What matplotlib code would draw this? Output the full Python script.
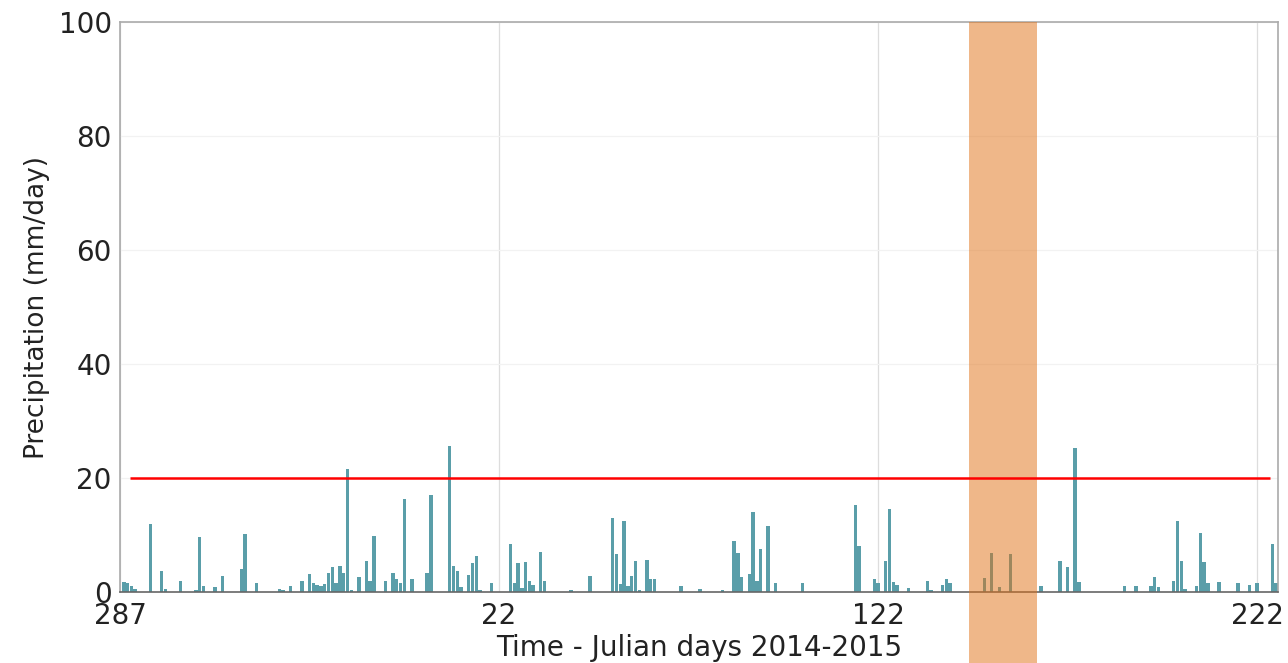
import numpy as np
import matplotlib
matplotlib.use('Agg')
import matplotlib.pyplot as plt

# daily precipitation, index = days since julian day 287 of 2014
rain_idx = [1, 2, 3, 4, 8, 11, 12, 16, 20, 21, 22, 25, 27, 32, 33, 36, 42, 43, 45, 48,
            50, 51, 52, 53, 54, 55, 56, 57, 58, 59, 60, 61, 63, 65, 66, 67, 70, 72, 73, 74,
            75, 77, 81, 82, 87, 88, 89, 90, 92, 93, 94, 95, 98, 103, 104, 105, 106, 107, 108, 109,
            111, 112, 119, 124, 130, 131, 132, 133, 134, 135, 136, 137, 139, 140, 141, 148, 153, 159, 162, 163,
            164, 166, 167, 168, 169, 171, 173, 180, 194, 195, 199, 200, 202, 203, 204, 205, 208, 213, 214, 217,
            218, 219, 228, 230, 232, 235, 243, 248, 250, 252, 253, 265, 268, 272, 273, 274, 278, 279, 280, 281,
            284, 285, 286, 287, 290, 295, 298, 300, 304, 305]
rain_mm = [1.8, 1.5, 1.0, 0.5, 12.0, 3.6, 0.6, 1.9, 0.4, 9.7, 1.1, 0.8, 2.8, 4.1, 10.1, 1.5, 0.6, 0.4, 1.0, 2.0,
           3.2, 1.5, 1.2, 1.0, 1.4, 3.3, 4.4, 1.5, 4.6, 3.3, 21.6, 0.4, 2.6, 5.4, 1.9, 9.8, 2.0, 3.3, 2.3, 1.5,
           16.4, 2.3, 3.3, 17.0, 25.7, 4.5, 3.6, 0.9, 2.9, 5.1, 6.4, 0.4, 1.5, 8.5, 1.6, 5.0, 0.7, 5.2, 1.9, 1.2,
           7.0, 1.9, 0.3, 2.8, 12.9, 6.6, 1.4, 12.4, 1.0, 2.8, 5.5, 0.3, 5.6, 2.3, 2.3, 1.1, 0.6, 0.3, 8.9, 6.9,
           2.7, 3.2, 14.1, 2.0, 7.6, 11.5, 1.5, 1.5, 15.2, 8.0, 2.3, 1.5, 5.4, 14.6, 1.8, 1.2, 0.7, 2.0, 0.3, 1.2,
           2.3, 1.6, 2.5, 6.9, 0.8, 6.6, 1.0, 5.5, 4.3, 25.2, 1.7, 1.0, 1.1, 1.0, 2.6, 0.9, 2.0, 12.5, 5.4, 0.6,
           1.0, 10.4, 5.2, 1.6, 1.8, 1.6, 1.3, 1.5, 8.4, 1.6]

tick_pos = [0, 100, 200, 300]
tick_labels = ['287', '22', '122', '222']
threshold = 20
window = (224, 242)  # highlighted period

fig = plt.figure(figsize=(12.88, 6.63), dpi=100)
ax = fig.add_axes([0.0932, 0.1071, 0.899, 0.8597])

# bars
ax.bar(rain_idx, rain_mm, width=0.9, color='#5a9ea9', edgecolor='none', zorder=2)

# highlighted window, reaching below the axis
ax.axvspan(window[0], window[1], ymin=-0.13, ymax=1, color='#e17115', alpha=0.5,
           lw=0, zorder=3, clip_on=False)

# threshold line
ax.hlines(threshold, 2.6, 303.5, color='#ff0000', lw=1.8, zorder=4)

ax.set_xlim(0, 305.5)
ax.set_ylim(0, 100)
ax.set_xticks(tick_pos)
ax.set_xticklabels(tick_labels)
ax.set_yticks(np.arange(0, 101, 20))
ax.tick_params(axis='both', labelsize=20, length=0, pad=6, colors='#222222')
ax.tick_params(axis='x', pad=7)

ax.grid(axis='x', color='#dddddd', lw=0.9, zorder=0)
ax.grid(axis='y', color='#f2f2f2', lw=0.9, zorder=0)

for side in ['left', 'right', 'top']:
    ax.spines[side].set_color('#aaaaaa')
    ax.spines[side].set_linewidth(1.2)
ax.spines['bottom'].set_color('#666666')
ax.spines['bottom'].set_linewidth(1.2)

ax.set_xlabel('Time - Julian days 2014-2015', fontsize=20, color='#222222', labelpad=3)
ax.set_ylabel('Precipitation (mm/day)', fontsize=19, color='#222222', labelpad=6)

fig.savefig('out.png', dpi=100)
